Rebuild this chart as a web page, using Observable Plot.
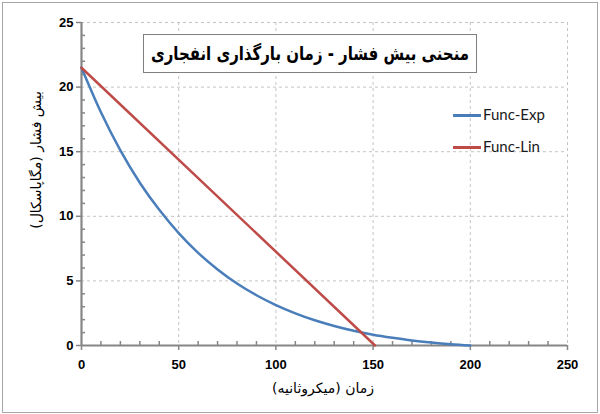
<!DOCTYPE html>
<html>
<head>
<meta charset="utf-8">
<script src="https://cdn.jsdelivr.net/npm/d3@7"></script>
<script src="https://cdn.jsdelivr.net/npm/@observablehq/plot@0.6"></script>
<style>
  html, body { margin: 0; padding: 0; background: #fff; }
  #wrap { position: relative; width: 600px; height: 414px; overflow: hidden; background: #fff; }
  #frame { position: absolute; left: 2px; top: 2px; width: 594px; height: 409px; border: 1px solid #a6a6a6; pointer-events: none; }
  #chart { position: absolute; left: 0; top: 0; }
  .title { position: absolute; left: 143px; top: 34px; width: 332px; height: 37px; border: 1px solid #7f7f7f; background: #fff; overflow: hidden;
           font-family: "DejaVu Sans", sans-serif; font-weight: bold; font-size: 19px; line-height: 37px; color: #000; white-space: nowrap; }
  .title span { position: absolute; left: 50%; top: 0; direction: rtl; transform-origin: 0 50%; }
  .xlabel { position: absolute; left: 223px; width: 200px; top: 380px; text-align: center; direction: rtl;
            font-family: "DejaVu Sans", sans-serif; font-size: 14px; color: #000; }
  .ylabel { position: absolute; left: -64px; top: 152px; width: 200px; text-align: center; direction: rtl; transform: rotate(-90deg);
            font-family: "DejaVu Sans", sans-serif; font-size: 14px; color: #000; white-space: nowrap; }
  .leg { position: absolute; left: 453px; font-family: Lato, sans-serif; font-size: 15px; color: #1a1a1a; }
  .leg .sw { position: absolute; left: 0; width: 28px; height: 3px; }
  .leg .tx { position: absolute; left: 30px; white-space: nowrap; }
</style>
</head>
<body>
<div id="wrap">
  <div id="chart"></div>
  <div class="title"><span id="title"></span></div>
  <div class="xlabel" id="xlabel"></div>
  <div class="ylabel" id="ylabel"></div>
  <div id="legend"></div>
  <div id="frame"></div>
</div>
<script>
// ---- data ----
const titleText = "منحنی بیش فشار - زمان بارگذاری انفجاری";
const xLabelText = "زمان (میکروثانیه)";
const yLabelText = "بیش فشار (مگاپاسکال)";
const seriesNames = ["Func-Exp", "Func-Lin"];
const seriesColors = ["#4A7EBB", "#BE4B48"];

const xTicks = [0, 50, 100, 150, 200, 250];
const yTicks = [0, 5, 10, 15, 20, 25];
const xMinor = [10, 20, 30, 40, 60, 70, 80, 90, 110, 120, 130, 140, 160, 170, 180, 190, 210, 220, 230, 240];
const yMinor = [1, 2, 3, 4, 6, 7, 8, 9, 11, 12, 13, 14, 16, 17, 18, 19, 21, 22, 23, 24];

const expTime = [0, 10, 20, 30, 40, 50, 60, 70, 80, 90, 100, 110, 120, 130, 140, 150, 160, 170, 180, 190, 200];
const expValue = [21.5, 18.05, 15.1, 12.6, 10.5, 8.7, 7.17, 5.89, 4.8, 3.89, 3.13, 2.49, 1.95, 1.51, 1.14, 0.84, 0.6, 0.39, 0.23, 0.1, 0];
const linTime = [0, 151];
const linValue = [21.5, 0];

// ---- build ----
const expData = expTime.map((t, i) => ({t, v: expValue[i]}));
const linData = linTime.map((t, i) => ({t, v: linValue[i]}));

const axisColor = "#868686";
const gridStyle = {stroke: "#c4c4c4", strokeOpacity: 1, strokeDasharray: "3,3"};

const plot = Plot.plot({
  width: 600,
  height: 414,
  marginLeft: 81,
  marginRight: 33,
  marginTop: 22,
  marginBottom: 69,
  style: {fontFamily: "'Liberation Sans', Arial, sans-serif", fontSize: "13px", color: "#000", background: "transparent"},
  x: {domain: [0, 250]},
  y: {domain: [0, 25]},
  marks: [
    Plot.gridX(xTicks.slice(1), gridStyle),
    Plot.gridY(yTicks.slice(1), gridStyle),
    Plot.axisX(xMinor, {tickSize: -4, fill: "none", stroke: axisColor, strokeWidth: 1.5, label: null}),
    Plot.axisY(yMinor, {tickSize: -4, fill: "none", stroke: axisColor, strokeWidth: 1.5, label: null}),
    Plot.axisX(xTicks, {tickSize: 5, tickPadding: 9, stroke: axisColor, strokeWidth: 1.5, fill: "#000", fontWeight: "bold", label: null}),
    Plot.axisY(yTicks, {tickSize: 5, tickPadding: 3, stroke: axisColor, strokeWidth: 1.5, fill: "#000", fontWeight: "bold", label: null}),
    Plot.ruleX([0], {stroke: axisColor, strokeWidth: 2.2}),
    Plot.ruleY([0], {stroke: axisColor, strokeWidth: 2.2}),
    Plot.line(expData, {x: "t", y: "v", stroke: seriesColors[0], strokeWidth: 2.5, curve: "monotone-x"}),
    Plot.line(linData, {x: "t", y: "v", stroke: seriesColors[1], strokeWidth: 2.5})
  ]
});
document.getElementById("chart").appendChild(plot);

const titleEl = document.getElementById("title");
titleEl.textContent = titleText;
const tw = titleEl.getBoundingClientRect().width;
const s = tw > 318 ? 318 / tw : 1;
titleEl.style.transform = "scaleX(" + s + ") translateX(-50%)";

document.getElementById("xlabel").textContent = xLabelText;
document.getElementById("ylabel").textContent = yLabelText;

const legend = document.getElementById("legend");
const legTops = [115, 147];
seriesNames.forEach((name, i) => {
  const item = document.createElement("div");
  item.className = "leg";
  item.style.top = legTops[i] + "px";
  const sw = document.createElement("div");
  sw.className = "sw";
  sw.style.background = seriesColors[i];
  sw.style.top = "-1px";
  const tx = document.createElement("div");
  tx.className = "tx";
  tx.style.top = "-10px";
  tx.textContent = name;
  item.appendChild(sw);
  item.appendChild(tx);
  legend.appendChild(item);
});
</script>
</body>
</html>
